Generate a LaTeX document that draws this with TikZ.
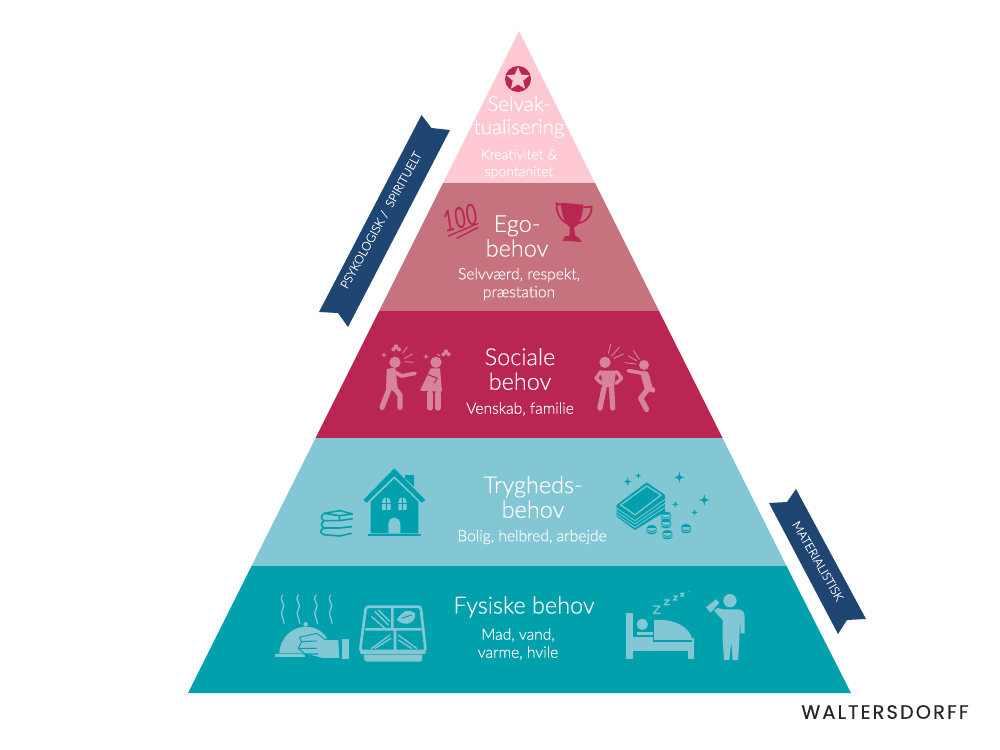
\documentclass[tikz,border=0pt]{standalone}
\usepackage{fontspec}
\usetikzlibrary{shapes.geometric}
\setmainfont{Lato}
\newfontfamily\lightfont[FakeBold=.25]{Lato Light}
\newfontfamily\brandfont[LetterSpace=11,FakeBold=.4]{Poppins}
\definecolor{layerself}{HTML}{FFC9D4}
\definecolor{layerego}{HTML}{C6737F}
\definecolor{layersocial}{HTML}{B92651}
\definecolor{layersafe}{HTML}{83C7D5}
\definecolor{layerbody}{HTML}{00A0AD}
\definecolor{ribboncol}{HTML}{1F4672}
\definecolor{figurecol}{HTML}{D7849B}
\newcommand{\sparkle}[2]{\fill[shift={(#1)},scale=#2] (0,-1) .. controls (.15,-.15) .. (1,0) .. controls (.15,.15) .. (0,1) .. controls (-.15,.15) .. (-1,0) .. controls (-.15,-.15) .. (0,-1) -- cycle;}
\newcommand{\coin}[1]{\fill[shift={(#1)}] (-15,-6) -- (-15,6) .. controls (-10,15) and (10,15) .. (15,6) -- (15,-6) -- cycle (0,-6) ellipse[x radius=15,y radius=9];
  \draw[layersafe,line width=.6pt,shift={(#1)}] (-15,1) .. controls (-8,9) and (8,9) .. (15,1);}
\tikzset{
  title/.style={font=\lightfont\fontsize{17.6}{18.5}\selectfont,text=white,align=center,inner sep=0pt},
  smalltitle/.style={font=\lightfont\fontsize{15.5}{17.3}\selectfont,text=white,align=center,inner sep=0pt},
  detail/.style={font=\lightfont\fontsize{11.7}{13.5}\selectfont,text=white,align=center,inner sep=0pt},
  smalldetail/.style={font=\lightfont\fontsize{10.5}{12.6}\selectfont,text=white,align=center,inner sep=0pt},
  ribbontext/.style={font=\lightfont\fontsize{9}{10}\selectfont,text=white,inner sep=0pt},
  limb/.style={figurecol,line width=4pt,line cap=round,line join=round},
  noise/.style={figurecol,line width=.7pt,line cap=round},
  thinlight/.style={layersafe,line width=1pt,line cap=round,line join=round},
  zoomsocial/.style={shift={(360,330)},scale=1/3},
  zoomsafe/.style={shift={(300,450)},scale=1/3},
  zoombody/.style={shift={(260,580)},scale=1/3},
  zoomego/.style={shift={(310,110)},scale=1/3},
}
\begin{document}
\begin{tikzpicture}[x=.75pt,y=-.75pt]
  \useasboundingbox (0,0) rectangle (1000,750);
  \fill[layerself] (519,31) -- (595,183) -- (443,183) -- cycle;
  \fill[layerego] (443,183) -- (595,183) -- (659,311) -- (379,311) -- cycle;
  \fill[layersocial] (379,311) -- (659,311) -- (722.5,438) -- (315.5,438) -- cycle;
  \fill[layersafe] (315.5,438) -- (722.5,438) -- (786.5,566) -- (251.5,566) -- cycle;
  \fill[layerbody] (251.5,566) -- (786.5,566) -- (851,693) -- (188,693) -- cycle;

  \fill[ribboncol] (421.5,115) -- (431.5,128) -- (450,130) -- (348,327) -- (338,313) -- (319,312) -- cycle;
  \fill[ribboncol] (796,489) -- (787,502) -- (769,503) -- (838,634) -- (847,620) -- (866,619) -- cycle;
  \node[ribbontext,rotate=61] (spiritual) at (381,220) {PSYKOLOGISK /\ \ SPIRITUELT};
  \node[ribbontext,rotate=-60] (material) at (818,561) {MATERIALISTISK};

  \node[smalltitle] (selftitle) at (519,117) {Selvak-\\tualisering};
  \node[smalldetail] (selfdetail) at (519,164) {Kreativitet \&\\spontanitet};
  \node[title] (egotitle) at (517,236) {Ego-\\behov};
  \node[detail] (egodetail) at (519,284) {Selvværd, respekt,\\præstation};
  \node[title] (socialtitle) at (520,369) {Sociale\\behov};
  \node[detail] (socialdetail) at (520,409) {Venskab, familie};
  \node[title] (safetitle) at (533,497) {Trygheds-\\behov};
  \node[detail] (safedetail) at (532,537) {Bolig, helbred, arbejde};
  \node[title] (bodytitle) at (524,607) {Fysiske behov};
  \node[detail] (bodydetail) at (518,644) {Mad, vand,\\varme, hvile};
  \node[font=\brandfont\fontsize{14.5}{14.5}\selectfont,text=black!85,inner sep=0pt] (brand) at (885,712) {WALTERSDORFF};

  % star badge
  \fill[layersocial] (518,79) circle[radius=13];
  \node[star,star points=5,star point ratio=2.2,fill=layerself,inner sep=0pt,minimum size=18pt] (badge) at (518,79) {};

  % hundred and trophy
  \node[font=\itshape\fontsize{19}{19}\selectfont,text=layersocial,rotate=14,xscale=.8,yscale=1.15,inner sep=0pt] (hundred) at (460,218) {100};
  \begin{scope}[zoomego]
    \draw[layersocial,line width=1pt] (415,378) -- (505,340) (440,385) -- (505,352);
    \fill[layersocial] (752,278) -- (820,284) .. controls (818,325) and (805,350) .. (792,352) -- (796,378) -- (805,382) -- (815,396) -- (758,392) -- (765,378) -- (778,378) -- (780,350) .. controls (765,345) and (755,315) .. (752,278) -- cycle;
    \draw[layersocial,line width=1.3pt] (752,285) -- (740,280) .. controls (738,305) and (750,330) .. (770,340);
    \draw[layersocial,line width=1.3pt] (820,292) -- (845,290) .. controls (845,315) and (830,335) .. (805,340);
  \end{scope}

  % people arguing
  \begin{scope}[zoomsocial,fill=figurecol]
    \fill (105,97) circle[radius=17];
    \fill (80,118) -- (106,112) -- (114,182) -- (78,182) -- cycle;
    \draw[limb] (88,175) -- (66,232) (104,175) -- (120,195) -- (120,232);
    \draw[limb,line width=2.8pt] (92,120) -- (125,138) -- (165,130);
    \fill (228,97) circle[radius=17];
    \fill (212,115) -- (240,115) -- (246,185) -- (180,182) -- cycle;
    \draw[limb] (210,190) -- (210,234) (234,190) -- (234,234);
    \draw[layersocial,line width=.8pt] (195,130) -- (232,145) -- (222,160);
    \fill (108,50) circle[radius=7] (100,58) circle[radius=6] (117,58) circle[radius=6];
    \draw[noise] (128,70) -- (142,50) (133,85) -- (158,72) (135,95) -- (160,97);
    \sparkle{72,75}{9}
    \sparkle{198,80}{9}
    \fill (258,65) circle[radius=7] (250,73) circle[radius=6] (266,73) circle[radius=6];
    \draw[noise] (232,72) -- (240,78);
    \fill (735,97) circle[radius=17];
    \fill (722,122) -- (768,122) -- (762,172) -- (728,172) -- cycle;
    \draw[limb] (732,175) -- (720,234) (755,175) -- (758,234);
    \draw[limb,line width=2.6pt] (722,125) -- (708,145) -- (725,160) (770,125) -- (785,145) -- (768,160);
    \draw[noise] (745,70) -- (752,42) (755,78) -- (778,52) (762,85) -- (790,72);
    \fill (852,105) circle[radius=15];
    \draw[limb,line width=2.8pt] (805,122) -- (850,130);
    \draw[limb,line width=6pt] (855,135) -- (865,172);
    \draw[limb] (865,175) -- (842,205) -- (860,238) (868,175) -- (878,180);
    \draw[noise] (795,98) -- (828,102) (805,78) -- (830,92) (820,62) -- (838,88);
  \end{scope}

  % house and books
  \begin{scope}[zoomsafe,fill=layerbody]
    \fill (315,75) -- (342,75) -- (342,110) -- (315,85) -- cycle;
    \fill (283,55) -- (376,150) -- (365,158) -- (283,78) -- (200,158) -- (190,150) -- cycle;
    \fill (283,86) -- (355,155) -- (355,250) -- (212,250) -- (212,155) -- cycle;
    \fill (205,252) rectangle (362,258);
    \fill[layersafe] (246,180) -- (246,155) .. controls (248,138) and (270,138) .. (272,155) -- (272,180) -- cycle;
    \fill[layersafe] (295,180) -- (295,155) .. controls (297,138) and (318,138) .. (320,155) -- (320,180) -- cycle;
    \draw[layerbody,line width=.5pt] (259,142) -- (259,180) (246,160) -- (272,160) (307,142) -- (307,180) (295,160) -- (320,160);
    \fill[layersafe] (265,250) -- (265,222) .. controls (268,196) and (298,196) .. (301,222) -- (301,250) -- cycle;
    \draw[layerbody,line width=1.2pt,line join=round] (158,192) -- (120,182) -- (72,190) .. controls (62,198) and (62,208) .. (72,212) -- (118,212) -- (158,206)
      (72,190) -- (118,197) -- (158,192) (118,197) -- (118,212)
      (72,212) .. controls (62,220) and (62,228) .. (72,234) -- (118,234) -- (156,230)
      (72,234) .. controls (58,240) and (60,250) .. (72,254) -- (118,258) -- (155,250);
    % banknotes
    \fill (950,165) -- (1040,97) -- (1095,135) -- (1095,185) -- (1005,240) -- (950,200) -- cycle;
    \draw[layersafe,line width=.6pt] (950,175) -- (1005,212) -- (1095,148) (950,185) -- (1005,222) -- (1095,160) (950,195) -- (1005,232) -- (1095,172);
    \draw[layersafe,line width=.9pt] (962,165) -- (1040,108) -- (1083,135) -- (1005,195) -- cycle;
    \fill (1022,150) ellipse[x radius=19,y radius=13];
    \coin{1098,200}
    \coin{1098,222}
    \coin{1055,240}
    \coin{1102,255}
    \coin{1158,237}
    \sparkle{983,95}{14}
    \sparkle{1015,77}{9}
    \sparkle{1138,82}{17}
    \sparkle{1213,150}{17}
    \sparkle{1126,163}{10}
    \sparkle{1184,187}{10}
  \end{scope}

  % food, bed and drinker
  \begin{scope}[zoombody,fill=layersafe]
    \draw[thinlight] (68,45) .. controls (55,62) and (80,72) .. (68,88) .. controls (58,102) and (72,115) .. (72,130);
    \draw[thinlight] (115,45) .. controls (102,62) and (127,72) .. (115,88) .. controls (105,102) and (119,115) .. (119,130);
    \draw[thinlight] (168,45) .. controls (155,62) and (180,72) .. (168,88) .. controls (158,102) and (172,115) .. (172,130);
    \draw[thinlight] (212,45) .. controls (199,62) and (224,72) .. (212,88) .. controls (202,102) and (216,115) .. (216,130);
    \fill (137,133) circle[radius=7];
    \fill (58,220) .. controls (60,170) and (100,140) .. (137,140) .. controls (175,140) and (210,165) .. (215,220) -- cycle;
    \fill (45,223) rectangle (135,232);
    \filldraw[draw=layerbody,line width=.7pt,line join=round] (125,185) -- (118,172) -- (170,160) -- (195,178) -- (236,178) -- (240,236) -- (190,236) -- (135,222) -- (115,205) -- cycle;
    \draw[layerbody,line width=.8pt] (125,185) -- (170,183) (115,205) -- (170,205) (130,222) -- (175,222);
    \fill (245,177) rectangle (267,238);
    % tray
    \draw[thinlight,line width=2pt,rounded corners=2pt] (318,80) -- (482,80) -- (497,213) -- (300,213) -- cycle (318,148) -- (482,148) (397,80) -- (397,148) (405,148) -- (405,213);
    \fill[rounded corners=1pt] (300,213) rectangle (498,222);
    \fill[rounded corners=1pt] (310,224) -- (488,224) -- (485,245) -- (315,245) -- cycle;
    \draw[thinlight] (345,95) -- (385,135) (355,90) -- (390,125) (335,110) -- (375,145) (335,205) -- (390,165) (345,205) -- (393,175) (415,165) -- (470,205) (415,180) -- (455,205);
    \fill (410,120) .. controls (430,90) and (445,85) .. (465,100) .. controls (470,125) and (440,145) .. (410,120) -- cycle;
    \draw[layerbody,line width=.7pt] (425,115) -- (455,105);
    % bed
    \fill (1098,100) rectangle (1118,238);
    \fill (1285,175) rectangle (1303,238);
    \fill (1147,133) circle[radius=17];
    \fill (1132,155) rectangle (1178,165);
    \fill (1180,120) .. controls (1240,115) and (1290,140) .. (1296,178) -- (1180,178) -- cycle;
    \fill (1118,170) rectangle (1285,212);
    \draw[layerbody,line width=.8pt] (1180,118) -- (1180,183) -- (1296,183);
    \draw[thinlight] (1180,78) -- (1200,78) -- (1180,100) -- (1200,100);
    \draw[thinlight] (1212,60) -- (1228,60) -- (1212,74) -- (1228,74) (1240,48) -- (1252,48) -- (1240,60) -- (1252,60) (1262,40) -- (1272,40) -- (1262,48) -- (1272,48);
    \fill (1285,35) circle[radius=1.5];
    \fill (1296,36) circle[radius=1.5];
    % person drinking
    \fill (1410,62) circle[radius=20];
    \fill (1392,88) -- (1436,88) .. controls (1450,90) and (1454,100) .. (1454,110) -- (1454,160) -- (1442,160) -- (1440,115) -- (1438,180) -- (1434,240) -- (1418,240) -- (1414,185) -- (1408,240) -- (1392,240) -- (1388,180) -- (1388,120) -- (1362,92) -- (1372,84) -- cycle;
    \fill (1338,82) -- (1368,58) -- (1378,68) -- (1352,98) -- cycle;
  \end{scope}
\end{tikzpicture}
\end{document}
